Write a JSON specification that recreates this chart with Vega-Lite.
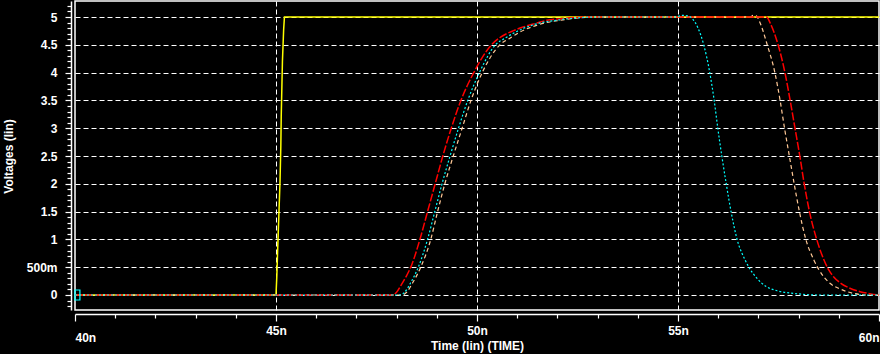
{
  "$schema": "https://vega.github.io/schema/vega-lite/v6.json",
  "autosize": {"type": "none"},
  "width": 804,
  "height": 309,
  "padding": {"left": 75, "top": 1, "right": 1, "bottom": 44},
  "background": "black",
  "config": {
    "view": {"stroke": "white", "strokeWidth": 1.5, "fill": "black"},
    "axis": {
      "labelFont": "Liberation Sans", "labelFontWeight": "bold", "labelFontSize": 12, "labelColor": "white",
      "titleFont": "Liberation Sans", "titleFontWeight": "bold", "titleFontSize": 12, "titleColor": "white",
      "domainColor": "white", "domainWidth": 1.5, "tickColor": "white", "tickWidth": 1.2,
      "gridColor": "white", "gridDash": [5, 3], "gridWidth": 1
    }
  },
  "datasets": {
    "sig": [
      {"s": "in", "t": 40, "v": 0}, {"s": "in", "t": 45.0, "v": 0}, {"s": "in", "t": 45.02, "v": 0.33}, {"s": "in", "t": 45.04, "v": 0.78}, {"s": "in", "t": 45.07, "v": 1.41}, {"s": "in", "t": 45.1, "v": 2.04}, {"s": "in", "t": 45.12, "v": 2.67}, {"s": "in", "t": 45.13, "v": 3.2}, {"s": "in", "t": 45.16, "v": 4.2}, {"s": "in", "t": 45.19, "v": 4.77}, {"s": "in", "t": 45.21, "v": 5.0}, {"s": "in", "t": 60, "v": 5.0},

      {"s": "peach", "t": 40, "v": 0}, {"s": "peach", "t": 48.13, "v": 0}, {"s": "peach", "t": 48.25, "v": 0.05}, {"s": "peach", "t": 48.4, "v": 0.22}, {"s": "peach", "t": 48.6, "v": 0.5}, {"s": "peach", "t": 48.85, "v": 1.0}, {"s": "peach", "t": 49.02, "v": 1.5}, {"s": "peach", "t": 49.2, "v": 2.0}, {"s": "peach", "t": 49.41, "v": 2.5}, {"s": "peach", "t": 49.63, "v": 3.0}, {"s": "peach", "t": 49.85, "v": 3.5}, {"s": "peach", "t": 50.13, "v": 4.0}, {"s": "peach", "t": 50.57, "v": 4.5}, {"s": "peach", "t": 50.82, "v": 4.62}, {"s": "peach", "t": 51.07, "v": 4.73}, {"s": "peach", "t": 51.52, "v": 4.86}, {"s": "peach", "t": 52.14, "v": 4.95}, {"s": "peach", "t": 53.0, "v": 5.0}, {"s": "peach", "t": 56.8, "v": 5.0}, {"s": "peach", "t": 56.87, "v": 5.03}, {"s": "peach", "t": 56.95, "v": 5.02}, {"s": "peach", "t": 57.02, "v": 4.93}, {"s": "peach", "t": 57.22, "v": 4.5}, {"s": "peach", "t": 57.41, "v": 4.0}, {"s": "peach", "t": 57.54, "v": 3.5}, {"s": "peach", "t": 57.65, "v": 3.0}, {"s": "peach", "t": 57.77, "v": 2.5}, {"s": "peach", "t": 57.89, "v": 2.0}, {"s": "peach", "t": 58.02, "v": 1.5}, {"s": "peach", "t": 58.18, "v": 1.0}, {"s": "peach", "t": 58.38, "v": 0.63}, {"s": "peach", "t": 58.51, "v": 0.45}, {"s": "peach", "t": 58.78, "v": 0.21}, {"s": "peach", "t": 59.03, "v": 0.11}, {"s": "peach", "t": 59.36, "v": 0.03}, {"s": "peach", "t": 59.7, "v": 0.0}, {"s": "peach", "t": 60, "v": 0.0},

      {"s": "red", "t": 40, "v": 0}, {"s": "red", "t": 47.9, "v": 0}, {"s": "red", "t": 48.0, "v": 0.05}, {"s": "red", "t": 48.13, "v": 0.2}, {"s": "red", "t": 48.25, "v": 0.35}, {"s": "red", "t": 48.38, "v": 0.55}, {"s": "red", "t": 48.58, "v": 1.0}, {"s": "red", "t": 48.77, "v": 1.5}, {"s": "red", "t": 48.96, "v": 2.0}, {"s": "red", "t": 49.15, "v": 2.5}, {"s": "red", "t": 49.36, "v": 3.0}, {"s": "red", "t": 49.6, "v": 3.5}, {"s": "red", "t": 49.92, "v": 4.0}, {"s": "red", "t": 50.36, "v": 4.5}, {"s": "red", "t": 50.55, "v": 4.62}, {"s": "red", "t": 50.86, "v": 4.74}, {"s": "red", "t": 51.11, "v": 4.81}, {"s": "red", "t": 51.48, "v": 4.89}, {"s": "red", "t": 51.73, "v": 4.94}, {"s": "red", "t": 52.1, "v": 4.97}, {"s": "red", "t": 52.8, "v": 5.0}, {"s": "red", "t": 57.2, "v": 5.0}, {"s": "red", "t": 57.3, "v": 4.88}, {"s": "red", "t": 57.49, "v": 4.5}, {"s": "red", "t": 57.66, "v": 4.0}, {"s": "red", "t": 57.79, "v": 3.5}, {"s": "red", "t": 57.91, "v": 3.0}, {"s": "red", "t": 58.03, "v": 2.5}, {"s": "red", "t": 58.14, "v": 2.0}, {"s": "red", "t": 58.27, "v": 1.5}, {"s": "red", "t": 58.45, "v": 1.0}, {"s": "red", "t": 58.62, "v": 0.65}, {"s": "red", "t": 58.75, "v": 0.45}, {"s": "red", "t": 58.88, "v": 0.32}, {"s": "red", "t": 59.05, "v": 0.21}, {"s": "red", "t": 59.25, "v": 0.13}, {"s": "red", "t": 59.53, "v": 0.06}, {"s": "red", "t": 59.8, "v": 0.02}, {"s": "red", "t": 60, "v": 0.0},

      {"s": "cyan", "t": 40, "v": 0}, {"s": "cyan", "t": 48.1, "v": 0}, {"s": "cyan", "t": 48.2, "v": 0.05}, {"s": "cyan", "t": 48.35, "v": 0.22}, {"s": "cyan", "t": 48.54, "v": 0.5}, {"s": "cyan", "t": 48.77, "v": 1.0}, {"s": "cyan", "t": 48.95, "v": 1.5}, {"s": "cyan", "t": 49.13, "v": 2.0}, {"s": "cyan", "t": 49.33, "v": 2.5}, {"s": "cyan", "t": 49.54, "v": 3.0}, {"s": "cyan", "t": 49.77, "v": 3.5}, {"s": "cyan", "t": 50.06, "v": 4.0}, {"s": "cyan", "t": 50.46, "v": 4.5}, {"s": "cyan", "t": 50.7, "v": 4.62}, {"s": "cyan", "t": 50.99, "v": 4.74}, {"s": "cyan", "t": 51.4, "v": 4.86}, {"s": "cyan", "t": 52.06, "v": 4.95}, {"s": "cyan", "t": 53.0, "v": 5.0}, {"s": "cyan", "t": 54.95, "v": 5.0}, {"s": "cyan", "t": 55.1, "v": 5.03}, {"s": "cyan", "t": 55.25, "v": 5.02}, {"s": "cyan", "t": 55.38, "v": 4.95}, {"s": "cyan", "t": 55.5, "v": 4.8}, {"s": "cyan", "t": 55.64, "v": 4.5}, {"s": "cyan", "t": 55.79, "v": 4.0}, {"s": "cyan", "t": 55.9, "v": 3.5}, {"s": "cyan", "t": 55.99, "v": 3.0}, {"s": "cyan", "t": 56.09, "v": 2.5}, {"s": "cyan", "t": 56.2, "v": 2.0}, {"s": "cyan", "t": 56.32, "v": 1.5}, {"s": "cyan", "t": 56.47, "v": 1.0}, {"s": "cyan", "t": 56.67, "v": 0.63}, {"s": "cyan", "t": 56.78, "v": 0.48}, {"s": "cyan", "t": 56.94, "v": 0.32}, {"s": "cyan", "t": 57.2, "v": 0.15}, {"s": "cyan", "t": 57.45, "v": 0.08}, {"s": "cyan", "t": 57.87, "v": 0.03}, {"s": "cyan", "t": 58.5, "v": 0.0}, {"s": "cyan", "t": 60, "v": 0.0}
    ],
    "marker": [{"t": 40.06, "v": 0}]
  },
  "encoding": {
    "x": {
      "field": "t", "type": "quantitative",
      "scale": {"domain": [40, 60], "nice": false, "zero": false},
      "axis": {
        "title": "Time (lin) (TIME)",
        "titleY": 35, "titleBaseline": "alphabetic", "titleX": 402,
        "offset": 4,
        "values": [40, 41, 42, 43, 44, 45, 46, 47, 48, 49, 50, 51, 52, 53, 54, 55, 56, 57, 58, 59, 60],
        "labelExpr": "datum.value % 5 == 0 ? datum.value + 'n' : ''",
        "labelFlush": true, "labelOverlap": false, "labelBound": false,
        "labelPadding": {"condition": {"test": "datum.value == 40 || datum.value == 60", "value": 11}, "value": 4},
        "tickSize": {"condition": {"test": "datum.value % 5 == 0", "value": 7}, "value": 4},
        "gridOpacity": {"condition": {"test": "datum.value % 5 == 0 && datum.value > 40 && datum.value < 60", "value": 1}, "value": 0}
      }
    },
    "y": {
      "field": "v", "type": "quantitative",
      "scale": {"domain": [-0.27, 5.288], "nice": false, "zero": false},
      "axis": {
        "title": "Voltages (lin)",
        "titleX": -63, "titleY": 155, "titleAngle": -90, "titleBaseline": "middle", "titleAlign": "center",
        "offset": 4,
        "values": [-0.2, -0.1, 0, 0.1, 0.2, 0.3, 0.4, 0.5, 0.6, 0.7, 0.8, 0.9, 1, 1.1, 1.2, 1.3, 1.4, 1.5, 1.6, 1.7, 1.8, 1.9, 2, 2.1, 2.2, 2.3, 2.4, 2.5, 2.6, 2.7, 2.8, 2.9, 3, 3.1, 3.2, 3.3, 3.4, 3.5, 3.6, 3.7, 3.8, 3.9, 4, 4.1, 4.2, 4.3, 4.4, 4.5, 4.6, 4.7, 4.8, 4.9, 5, 5.1, 5.2],
        "labelExpr": "(abs(datum.value*2 - round(datum.value*2)) < 0.01 && datum.value > -0.01 && datum.value < 5.01) ? (abs(datum.value - 0.5) < 0.01 ? '500m' : format(datum.value, '~g')) : ''",
        "labelOverlap": false, "labelBound": false, "labelPadding": 8,
        "tickSize": {"condition": {"test": "abs(datum.value*2 - round(datum.value*2)) < 0.01", "value": 6}, "value": 4},
        "gridOpacity": {"condition": {"test": "abs(datum.value*2 - round(datum.value*2)) < 0.01 && datum.value > -0.01 && datum.value < 5.01", "value": 1}, "value": 0}
      }
    }
  },
  "layer": [
    {"data": {"name": "sig"}, "transform": [{"filter": "datum.s == 'in'"}], "mark": {"type": "line", "color": "#ffff00", "strokeWidth": 1.5, "interpolate": "linear"}},
    {"data": {"name": "sig"}, "transform": [{"filter": "datum.s == 'peach'"}], "mark": {"type": "line", "color": "#ffc896", "strokeWidth": 1.2, "strokeDash": [4, 3], "interpolate": "monotone"}},
    {"data": {"name": "sig"}, "transform": [{"filter": "datum.s == 'red'"}], "mark": {"type": "line", "color": "#ff0000", "strokeWidth": 1.5, "strokeDash": [8, 2], "interpolate": "monotone"}},
    {"data": {"name": "sig"}, "transform": [{"filter": "datum.s == 'cyan'"}], "mark": {"type": "line", "color": "#00ffff", "strokeWidth": 1.2, "strokeDash": [2, 2], "interpolate": "monotone"}},
    {"data": {"name": "marker"}, "mark": {"type": "point", "shape": "M-0.5,-1H0.5V1H-0.5Z", "size": 100, "stroke": "#00ffff", "strokeWidth": 1.2, "filled": false, "opacity": 1}}
  ]
}
